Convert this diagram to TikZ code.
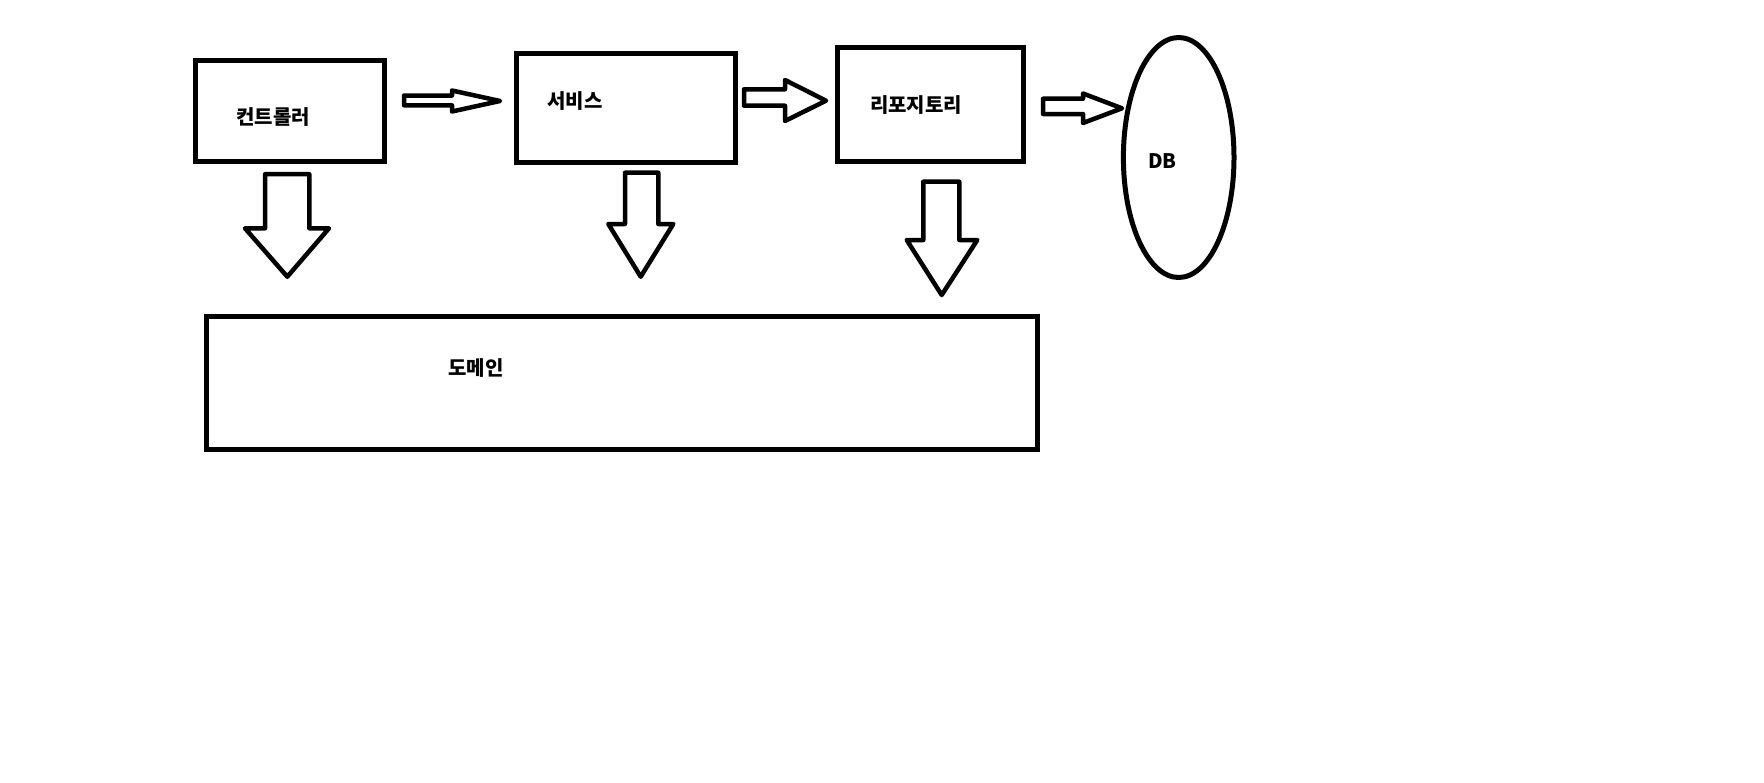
\documentclass[tikz,border=0pt]{standalone}
\usepackage{fontspec}
\newfontfamily\kr{Noto Sans CJK KR}
\usetikzlibrary{shapes.geometric}
\begin{document}
\begin{tikzpicture}[x=1pt,y=-1pt,
  box/.style={draw=black,line width=5pt,rectangle,inner sep=0pt,fill=none},
  dbshape/.style={draw=black,line width=5pt,ellipse,inner sep=0pt},
  lbl/.style={inner sep=0pt,font=\kr\bfseries\fontsize{20}{23}\selectfont},
  blockarrow/.style={draw=black,line width=4.5pt,line join=round,fill=white}]
\useasboundingbox (0,0) rectangle (1764,782);
\fill[white] (0,0) rectangle (1764,782);
% boxes
\node[box,minimum width=188.5pt,minimum height=101pt] (ctrl) at (289.75,110.5) {};
\node[box,minimum width=218.5pt,minimum height=109pt] (svc) at (625.75,107.5) {};
\node[box,minimum width=186.5pt,minimum height=114pt] (repo) at (930.25,104) {};
\node[box,minimum width=831pt,minimum height=133.5pt] (dom) at (621.5,382.75) {};
\node[dbshape,minimum width=110.6pt,minimum height=240pt] (db) at (1178.7,157.5) {};
% labels
\node[lbl] (tctrl) at (273,117) {컨트롤러};
\node[lbl] (tsvc) at (575,101) {서비스};
\node[lbl] (trepo) at (916,105) {리포지토리};
\node[lbl] (tdom) at (476,368) {도메인};
\node[lbl] (tdb) at (1162.5,161) {DB};
% right block arrows
\draw[blockarrow] (404,95.5) -- (452,95.5) -- (452,90.5) -- (500,101) -- (452,111.5) -- (452,105.3) -- (404,105.3) -- cycle;
\draw[blockarrow] (744,89.3) -- (785,89.3) -- (785,80) -- (826,100.7) -- (785,121) -- (785,105.7) -- (744,105.7) -- cycle;
\draw[blockarrow] (1043,98.7) -- (1083,98.7) -- (1083,93.5) -- (1122,108.3) -- (1083,123) -- (1083,114) -- (1043,114) -- cycle;
% down block arrows
\draw[blockarrow] (265,174.2) -- (309.3,174.2) -- (309.3,228.3) -- (329,228.3) -- (287.3,276.7) -- (245,228.3) -- (265,228.3) -- cycle;
\draw[blockarrow] (625,172.7) -- (658.3,172.7) -- (658.3,224) -- (673.3,224) -- (640.7,276.7) -- (608.3,224) -- (625,224) -- cycle;
\draw[blockarrow] (923.3,181.7) -- (959.3,181.7) -- (959.3,240) -- (977.3,240) -- (941.7,295) -- (906.7,240) -- (923.3,240) -- cycle;
\end{tikzpicture}
\end{document}
